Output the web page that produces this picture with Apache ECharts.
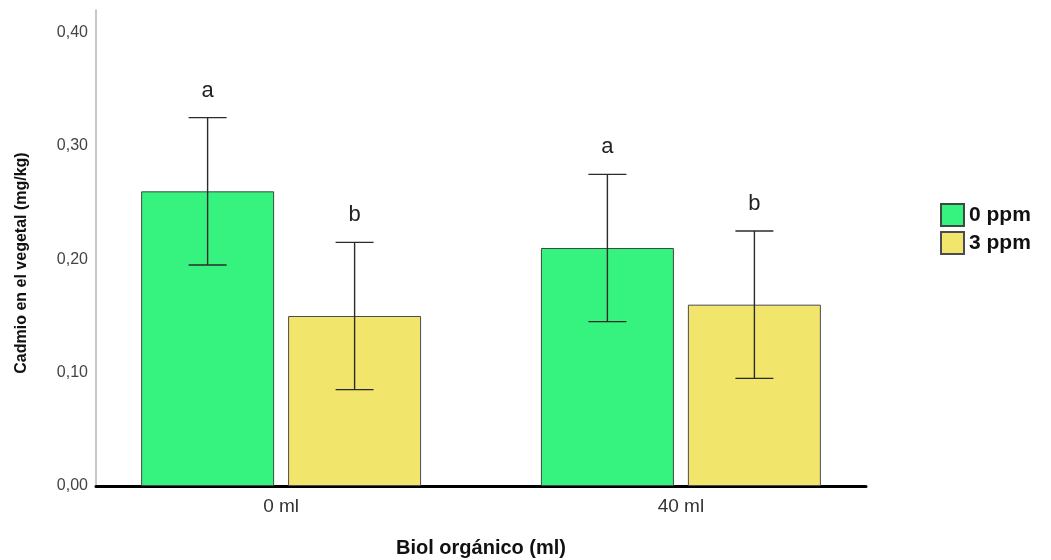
<!DOCTYPE html>
<html>
<head>
<meta charset="utf-8">
<script src="https://cdn.jsdelivr.net/npm/echarts@6/dist/echarts.min.js"></script>
<style>
  html, body { margin: 0; padding: 0; background: #fff; }
  #chart { width: 1051px; height: 560px; }
</style>
</head>
<body>
<div id="chart"></div>
<script>
// data
const categories = ['0 ml', '40 ml']
const seriesNames = ['0 ppm', '3 ppm']
const means0 = [0.26, 0.21]
const means3 = [0.15, 0.16]
const low0 = [0.195, 0.145]
const high0 = [0.325, 0.275]
const low3 = [0.085, 0.095]
const high3 = [0.215, 0.225]
const letters0 = ['a', 'a']
const letters3 = ['b', 'b']

const font = 'Liberation Sans, Arial, sans-serif'
const barWidth = 133
const barGapPx = 14
const half = (barWidth + barGapPx) / 2

function errorSeries(lows, highs, letters, offset) {
  return {
    type: 'custom',
    z: 5,
    silent: true,
    data: categories.map((c, i) => [i, lows[i], highs[i], letters[i]]),
    renderItem(params, api) {
      const x = api.value(0)
      const pHi = api.coord([x, api.value(2)])
      const pLo = api.coord([x, api.value(1)])
      const cx = pHi[0] + offset
      const capW = 19
      const style = { stroke: '#2b2b2b', lineWidth: 1.4 }
      return {
        type: 'group',
        children: [
          { type: 'line', shape: { x1: cx, y1: pHi[1], x2: cx, y2: pLo[1] }, style },
          { type: 'line', shape: { x1: cx - capW, y1: pHi[1], x2: cx + capW, y2: pHi[1] }, style },
          { type: 'line', shape: { x1: cx - capW, y1: pLo[1], x2: cx + capW, y2: pLo[1] }, style },
          {
            type: 'text',
            style: {
              text: letters[params.dataIndex],
              x: cx, y: pHi[1] - 16,
              align: 'center', verticalAlign: 'bottom',
              font: '22px ' + font, fill: '#222'
            }
          }
        ]
      }
    }
  }
}

const chart = echarts.init(document.getElementById('chart'))

chart.setOption({
  animation: false,
  backgroundColor: '#fff',
  textStyle: { fontFamily: font },
  grid: { left: 96, right: 185, top: 10, bottom: 74, containLabel: false, outerBoundsMode: 'none' },
  legend: {
    data: seriesNames,
    orient: 'vertical',
    left: 935,
    top: 198,
    itemWidth: 23,
    itemHeight: 22,
    itemGap: 4,
    icon: 'rect',
    textStyle: { fontSize: 21, fontWeight: 'bold', color: '#111', fontFamily: font }
  },
  xAxis: {
    type: 'value',
    min: -0.463,
    max: 1.463,
    name: 'Biol orgánico (ml)',
    nameLocation: 'middle',
    nameGap: 52,
    nameTextStyle: { fontSize: 20, fontWeight: 'bold', color: '#111' },
    axisLine: { onZero: false, lineStyle: { color: '#000', width: 3 } },
    axisTick: { show: false },
    splitLine: { show: false },
    axisLabel: {
      customValues: [0, 1],
      formatter: v => categories[Math.round(v)] || '',
      fontSize: 19,
      color: '#333',
      margin: 11
    }
  },
  yAxis: {
    type: 'value',
    min: 0,
    max: 0.42,
    interval: 0.1,
    name: 'Cadmio en el vegetal (mg/kg)',
    nameLocation: 'middle',
    nameGap: 66,
    nameTextStyle: { fontSize: 16, fontWeight: 'bold', color: '#111', padding: [0, 30, 0, 0] },
    axisLine: { show: true, onZero: false, lineStyle: { color: '#b5b5b5', width: 1.5 } },
    axisTick: { show: false },
    splitLine: { show: false },
    axisLabel: {
      showMaxLabel: false,
      formatter: v => v.toFixed(2).replace('.', ','),
      fontSize: 16,
      color: '#444',
      margin: 8
    }
  },
  series: [
    {
      name: seriesNames[0],
      type: 'bar',
      barWidth: barWidth,
      barGap: (barGapPx / barWidth * 100).toFixed(1) + '%',
      data: categories.map((c, i) => [i, means0[i]]),
      itemStyle: { color: '#36f27f', borderColor: '#3d4a40', borderWidth: 1 }
    },
    {
      name: seriesNames[1],
      type: 'bar',
      barWidth: barWidth,
      data: categories.map((c, i) => [i, means3[i]]),
      itemStyle: { color: '#f1e56b', borderColor: '#4e4a55', borderWidth: 1 }
    },
    errorSeries(low0, high0, letters0, -half),
    errorSeries(low3, high3, letters3, half)
  ]
})
</script>
</body>
</html>
